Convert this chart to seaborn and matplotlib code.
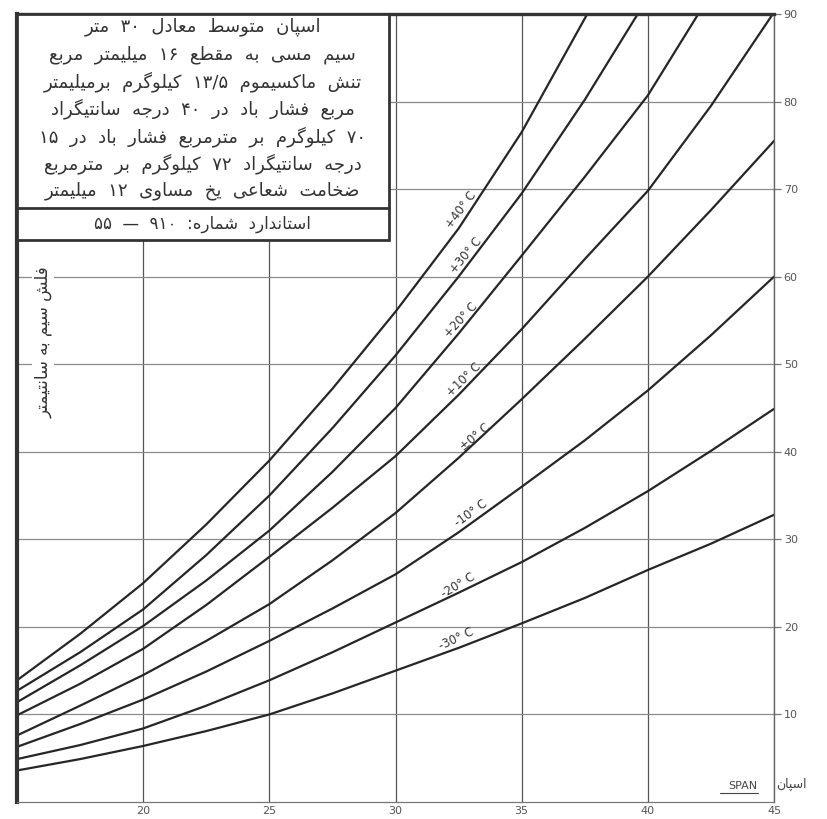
import re
import matplotlib
matplotlib.use('Agg')
import matplotlib.pyplot as plt
import seaborn as sns
import pandas as pd
from matplotlib.patches import Rectangle

# span (m) -> sag (cm), one curve per temperature
span = [15, 17.5, 20, 22.5, 25, 27.5, 30, 32.5, 35, 37.5, 40, 42.5, 45]
sag_m30 = [3.6, 4.9, 6.4, 8.1, 10.0, 12.4, 15.0, 17.6, 20.4, 23.3, 26.5, 29.5, 32.8]
sag_m20 = [4.9, 6.5, 8.4, 11.0, 13.9, 17.1, 20.5, 23.9, 27.4, 31.3, 35.5, 40.1, 44.9]
sag_m10 = [6.3, 8.9, 11.7, 14.9, 18.4, 22.1, 26.0, 30.8, 36.0, 41.3, 47.0, 53.3, 60.0]
sag_0 = [7.6, 11.0, 14.5, 18.4, 22.6, 27.6, 33.0, 39.3, 46.0, 52.9, 60.0, 67.6, 75.5]
sag_p10 = [9.9, 13.5, 17.5, 22.5, 28.0, 33.6, 39.5, 46.5, 54.0, 62.0, 69.8, 79.5, 90.2]
span_p20 = [15, 17.5, 20, 22.5, 25, 27.5, 30, 32.5, 35, 37.5, 40, 42.0]
sag_p20 = [11.4, 15.6, 20.1, 25.3, 31.0, 37.7, 45.0, 53.5, 62.4, 71.4, 80.7, 90.0]
span_p30 = [15, 17.5, 20, 22.5, 25, 27.5, 30, 32.5, 35, 37.5, 39.6]
sag_p30 = [12.7, 17.1, 22.0, 28.2, 35.0, 42.7, 51.0, 60.0, 69.5, 80.2, 90.0]
span_p40 = [15, 17.5, 20, 22.5, 25, 27.5, 30, 32.5, 35, 37.6]
sag_p40 = [13.9, 19.2, 25.0, 31.7, 39.0, 47.2, 56.0, 65.5, 76.5, 90.0]

temps = ["-30° C", "-20° C", "-10° C", "±0° C", "+10° C", "+20° C", "+30° C", "+40° C"]

x_ticks = [20, 25, 30, 35, 40, 45]
y_ticks = [10, 20, 30, 40, 50, 60, 70, 80, 90]

info_lines = [
    "اسپان متوسط معادل ۳۰ متر",
    "سیم مسی به مقطع ۱۶ میلیمتر مربع",
    "تنش ماکسیموم ۱۳/۵ کیلوگرم برمیلیمتر",
    "مربع فشار باد در ۴۰ درجه سانتیگراد",
    "۷۰ کیلوگرم بر مترمربع فشار باد در ۱۵",
    "درجه سانتیگراد ۷۲ کیلوگرم بر مترمربع",
    "ضخامت شعاعی یخ مساوی ۱۲ میلیمتر",
]
standard_line = "استاندارد شماره: ۹۱۰ — ۵۵"
y_title = "فلش سیم به سانتیمتر"
x_title = "اسپان"

# label placement along the curves (data coords, display angle)
label_pos = [(32.4, 18.6, 25), (32.5, 24.7, 31), (33.0, 33.0, 36), (33.15, 41.7, 40),
             (32.7, 48.2, 44), (32.6, 55.0, 47), (32.8, 62.4, 50), (32.6, 67.6, 53)]

# minimal arabic/persian shaping (matplotlib has no complex text layout)
FORMS = {
    'ا': (0xFE8D, 0xFE8E, None, None), 'آ': (0xFE81, 0xFE82, None, None),
    'ب': (0xFE8F, 0xFE90, 0xFE91, 0xFE92), 'پ': (0xFB56, 0xFB57, 0xFB58, 0xFB59),
    'ت': (0xFE95, 0xFE96, 0xFE97, 0xFE98), 'ث': (0xFE99, 0xFE9A, 0xFE9B, 0xFE9C),
    'ج': (0xFE9D, 0xFE9E, 0xFE9F, 0xFEA0), 'چ': (0xFB7A, 0xFB7B, 0xFB7C, 0xFB7D),
    'ح': (0xFEA1, 0xFEA2, 0xFEA3, 0xFEA4), 'خ': (0xFEA5, 0xFEA6, 0xFEA7, 0xFEA8),
    'د': (0xFEA9, 0xFEAA, None, None), 'ذ': (0xFEAB, 0xFEAC, None, None),
    'ر': (0xFEAD, 0xFEAE, None, None), 'ز': (0xFEAF, 0xFEB0, None, None),
    'ژ': (0xFB8A, 0xFB8B, None, None),
    'س': (0xFEB1, 0xFEB2, 0xFEB3, 0xFEB4), 'ش': (0xFEB5, 0xFEB6, 0xFEB7, 0xFEB8),
    'ص': (0xFEB9, 0xFEBA, 0xFEBB, 0xFEBC), 'ض': (0xFEBD, 0xFEBE, 0xFEBF, 0xFEC0),
    'ط': (0xFEC1, 0xFEC2, 0xFEC3, 0xFEC4), 'ظ': (0xFEC5, 0xFEC6, 0xFEC7, 0xFEC8),
    'ع': (0xFEC9, 0xFECA, 0xFECB, 0xFECC), 'غ': (0xFECD, 0xFECE, 0xFECF, 0xFED0),
    'ف': (0xFED1, 0xFED2, 0xFED3, 0xFED4), 'ق': (0xFED5, 0xFED6, 0xFED7, 0xFED8),
    'ک': (0xFB8E, 0xFB8F, 0xFB90, 0xFB91), 'گ': (0xFB92, 0xFB93, 0xFB94, 0xFB95),
    'ل': (0xFEDD, 0xFEDE, 0xFEDF, 0xFEE0), 'م': (0xFEE1, 0xFEE2, 0xFEE3, 0xFEE4),
    'ن': (0xFEE5, 0xFEE6, 0xFEE7, 0xFEE8), 'ه': (0xFEE9, 0xFEEA, 0xFEEB, 0xFEEC),
    'و': (0xFEED, 0xFEEE, None, None), 'ی': (0xFBFC, 0xFBFD, 0xFBFE, 0xFBFF),
}


def farsi(text):
    text = text.replace('ي', 'ی').replace('ك', 'ک')
    out = []
    for i, c in enumerate(text):
        if c not in FORMS:
            out.append(c)
            continue
        prev = text[i - 1] if i > 0 else ''
        nxt = text[i + 1] if i + 1 < len(text) else ''
        join_prev = prev in FORMS and FORMS[prev][2] is not None
        join_next = FORMS[c][2] is not None and nxt in FORMS
        isol, fin, ini, med = FORMS[c]
        if join_prev and join_next:
            out.append(chr(med))
        elif join_prev:
            out.append(chr(fin))
        elif join_next:
            out.append(chr(ini))
        else:
            out.append(chr(isol))
    shaped = ''.join(out)
    parts = re.findall(r'[۰-۹0-9]+(?:/[۰-۹0-9]+)*|.', shaped)
    return ''.join(reversed(parts))


rows = []
series = [(span, sag_m30), (span, sag_m20), (span, sag_m10), (span, sag_0), (span, sag_p10),
          (span_p20, sag_p20), (span_p30, sag_p30), (span_p40, sag_p40)]
for t, (xs, ys) in zip(temps, series):
    for x, y in zip(xs, ys):
        rows.append({"span": x, "sag": y, "temp": t})
df = pd.DataFrame(rows)

sns.set_style("white")
plt.rcParams['font.family'] = ['DejaVu Sans']

fig = plt.figure(figsize=(8.27, 8.19), dpi=100)
ax = fig.add_axes([17 / 827, 17 / 819, 757 / 827, 788 / 819])

sns.lineplot(data=df, x="span", y="sag", hue="temp", estimator=None, sort=True,
             palette=["#262626"] * len(temps), linewidth=1.6, legend=False, ax=ax, zorder=2)

ax.set_xlim(15, 45)
ax.set_ylim(0, 89.55)
ax.set_xticks(x_ticks)
ax.set_yticks(y_ticks)
ax.set_xticklabels([str(v) for v in x_ticks], fontsize=8, color="#555555")
ax.set_yticklabels([str(v) for v in y_ticks], fontsize=8, color="#555555")
ax.yaxis.tick_right()
ax.tick_params(axis="x", length=0, pad=3)
ax.tick_params(axis="y", length=5, width=0.9, color="#777777", pad=2)
ax.grid(True, axis="x", color="#555555", linewidth=0.9)
ax.grid(True, axis="y", color="#8a8a8a", linewidth=0.9)
ax.set_xlabel("")
ax.set_ylabel("")

ax.spines["left"].set_linewidth(3.0)
ax.spines["left"].set_color("#333333")
ax.spines["top"].set_linewidth(2.4)
ax.spines["top"].set_color("#333333")
ax.spines["right"].set_linewidth(1.0)
ax.spines["right"].set_color("#666666")
ax.spines["bottom"].set_linewidth(0.9)
ax.spines["bottom"].set_color("#777777")

# curve labels
for t, (lx, ly, rot) in zip(temps, label_pos):
    ax.text(lx, ly, t, rotation=rot, rotation_mode="anchor", ha="center", va="center",
            fontsize=8.5, color="#333333", zorder=4)

# info box in the upper left
box_right = 0.491
box_bottom = 0.7132
ax.add_patch(Rectangle((0, box_bottom), box_right, 1 - box_bottom, transform=ax.transAxes,
                       facecolor="white", edgecolor="#333333", linewidth=2.0, zorder=5,
                       clip_on=False))
ax.plot([0, box_right], [0.7538, 0.7538], transform=ax.transAxes, color="#333333",
        linewidth=2.0, zorder=6, clip_on=False)
for i, line in enumerate(info_lines):
    ax.text(box_right / 2, 0.9835 - i * 0.0347, farsi(line.replace(" ", "  ")),
            transform=ax.transAxes, ha="center", va="center", fontsize=13,
            color="#333333", zorder=7)
ax.text(box_right / 2, 0.7335, farsi(standard_line.replace(" ", "  ")), transform=ax.transAxes,
        ha="center", va="center", fontsize=12, color="#333333", zorder=7)

# axis titles
ax.text(16.05, 52.5, farsi(y_title), rotation=90, ha="center", va="center", fontsize=12,
        color="#333333", zorder=4,
        bbox=dict(facecolor="white", edgecolor="none", pad=1.5))
ax.text(44.35, 1.3, "SPAN", ha="right", va="bottom", fontsize=8, color="#444444", zorder=4)
ax.plot([42.85, 44.35], [1.0, 1.0], color="#444444", linewidth=0.8, zorder=4)
ax.text(45.1, 1.2, farsi(x_title), ha="left", va="bottom", fontsize=9, color="#444444",
        zorder=4, clip_on=False)

plt.savefig("out.png", dpi=100)
